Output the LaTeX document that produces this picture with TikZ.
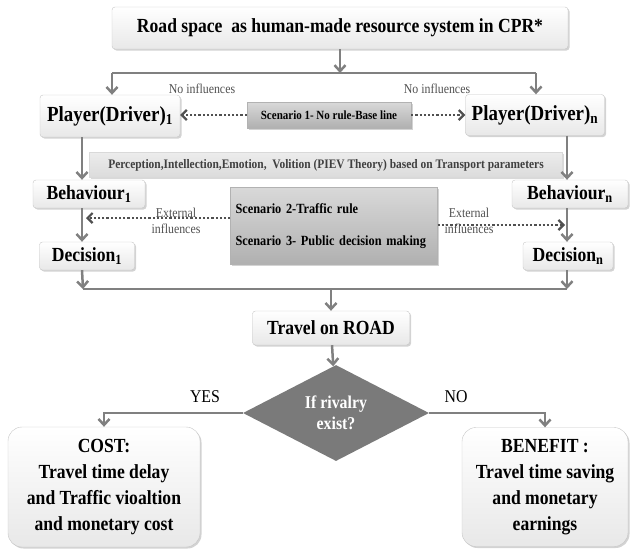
\documentclass[tikz,border=0pt]{standalone}
\usepackage{fontspec}
\setmainfont[FakeStretch=0.88]{Liberation Serif}
\usepackage{tikz}
\usetikzlibrary{positioning,arrows.meta,shapes.geometric,shadows}
\definecolor{linegray}{HTML}{808080}
\definecolor{dotgray}{HTML}{505050}
\definecolor{rivalgray}{HTML}{7A7A7A}
\newcommand{\bigtxt}{\fontsize{20}{26}\selectfont}
\newcommand{\smalltxt}{\fontsize{12.5}{15}\selectfont}
\tikzset{
  box/.style={rectangle, rounded corners=3pt, draw=gray!45, top color=white, bottom color=gray!18,
              drop shadow={shadow xshift=1.5pt, shadow yshift=-1.5pt, opacity=.35},
              font=\bigtxt\bfseries, inner sep=1pt, align=center},
  bigbox/.style={box, rounded corners=14pt},
  scen/.style={rectangle, draw=gray!60, top color=gray!30, bottom color=gray!62,
               drop shadow={shadow xshift=1.5pt, shadow yshift=-1.5pt, opacity=.35},
               font=\smalltxt\bfseries, inner sep=2pt},
  band/.style={rectangle, top color=gray!15, bottom color=gray!28, draw=gray!30,
               drop shadow={shadow xshift=1.5pt, shadow yshift=-1.5pt, opacity=.3},
               font=\fontsize{13}{15}\selectfont\bfseries, text=black!75},
  rival/.style={diamond, fill=rivalgray, inner sep=0pt, text=white, align=center,
                font=\fontsize{18}{21}\selectfont\bfseries},
  note/.style={font=\fontsize{13.5}{16}\selectfont, text=dotgray, align=center},
  fwd/.style={-{Straight Barb[length=6pt,width=11pt]}, line width=2.5pt, draw=linegray},
  bus/.style={line width=2.5pt, draw=linegray},
  infl/.style={-{Straight Barb[length=5pt,width=10pt]}, line width=2.2pt, dotted, draw=dotgray},
}
\begin{document}
\begin{tikzpicture}[x=1pt,y=-1pt]
  \useasboundingbox (0,0) rectangle (631,550);

  \node[box, minimum width=456pt, minimum height=42pt] (road) at (340,28) {Road space\ \ as human-made resource system in CPR*};
  \node[box, minimum width=140pt, minimum height=42pt, font=\fontsize{21.5}{26}\selectfont\bfseries] (p1) at (110,116) {Player(Driver)\textsubscript{1}};
  \node[box, minimum width=139pt, minimum height=41pt, font=\fontsize{21.5}{26}\selectfont\bfseries] (pn) at (535,115) {Player(Driver)\textsubscript{n}};
  \node[scen, minimum width=164pt, minimum height=26pt] (sc1) at (329,115) {Scenario 1- No rule-Base line};
  \node[note] (nl) at (202,89) {No influences};
  \node[note] (nr) at (437,89) {No influences};

  \node[band, minimum width=473pt, minimum height=25pt] (piev) at (326,165) {Perception,Intellection,Emotion,\ \ Volition (PIEV Theory) based on Transport parameters};

  \node[box, minimum width=112pt, minimum height=28pt] (b1) at (89,194) {Behaviour\textsubscript{1}};
  \node[box, minimum width=116pt, minimum height=28pt] (bn) at (570,194) {Behaviour\textsubscript{n}};
  \node[scen, minimum width=207pt, minimum height=77pt, align=left, text width=197pt,
        font=\fontsize{14}{17}\selectfont\bfseries] (sc23) at (334,226)
    {Scenario 2-Traffic rule\\[15pt]Scenario 3- Public decision making};
  \node[note] (extl) at (176,221) {External\\influences};
  \node[note] (extr) at (469,221) {External\\influences};
  \node[box, minimum width=95pt, minimum height=28pt] (d1) at (87,256) {Decision\textsubscript{1}};
  \node[box, minimum width=90pt, minimum height=28pt] (dn) at (568,256) {Decision\textsubscript{n}};

  \node[box, minimum width=157pt, minimum height=34pt] (travel) at (331,328) {Travel on ROAD};
  \node[rival, minimum width=186pt, minimum height=94pt] (ifr) at (336,413) {If rivalry\\exist?};
  \node[font=\fontsize{18}{20}\selectfont] (yes) at (205,397) {YES};
  \node[font=\fontsize{18}{20}\selectfont] (no) at (456,397) {NO};
  \node[bigbox, minimum width=192pt, minimum height=120pt] (cost) at (104,487)
    {COST:\\Travel time delay\\and Traffic vioaltion\\and monetary cost};
  \node[bigbox, minimum width=166pt, minimum height=119pt] (benefit) at (545,487)
    {BENEFIT :\\Travel time saving\\and monetary\\earnings};

  \coordinate (busL) at (112,73);
  \coordinate (busR) at (536,73);
  \coordinate (colL) at (82,0);
  \coordinate (colR) at (567,0);
  \coordinate (endL) at (83,289);
  \coordinate (endR) at (567,289);
  \coordinate (extL) at (86,218);
  \coordinate (extR) at (565,225);

  \draw[fwd] (road) -- (road |- busL);
  \draw[bus] (busL) -- (busR);
  \draw[fwd] (busL) -- (busL |- p1.north);
  \draw[fwd] (busR) -- (busR |- pn.north);
  \draw[infl] (sc1.west) -- (sc1.west -| p1.east);
  \draw[infl] (sc1.east) -- (sc1.east -| pn.west);

  \draw[fwd] (colL |- p1.south) -- (colL |- b1.north);
  \draw[fwd] (colR |- pn.south) -- (colR |- bn.north);
  \draw[fwd] (colL |- b1.south) -- (colL |- d1.north);
  \draw[fwd] (colR |- bn.south) -- (colR |- dn.north);
  \draw[infl] (extL -| sc23.west) -- (extL);
  \draw[infl] (extR -| sc23.east) -- (extR);

  \draw[fwd] (colL |- d1.south) -- (endL);
  \draw[fwd] (colR |- dn.south) -- (endR);
  \draw[bus] (endL) -- (endR);
  \draw[fwd] (travel |- endL) -- (travel.north);
  \draw[fwd] (travel) -- (ifr);
  \draw[fwd] (ifr.west) -| (cost.north);
  \draw[fwd] (ifr.east) -| (benefit.north);
\end{tikzpicture}
\end{document}
